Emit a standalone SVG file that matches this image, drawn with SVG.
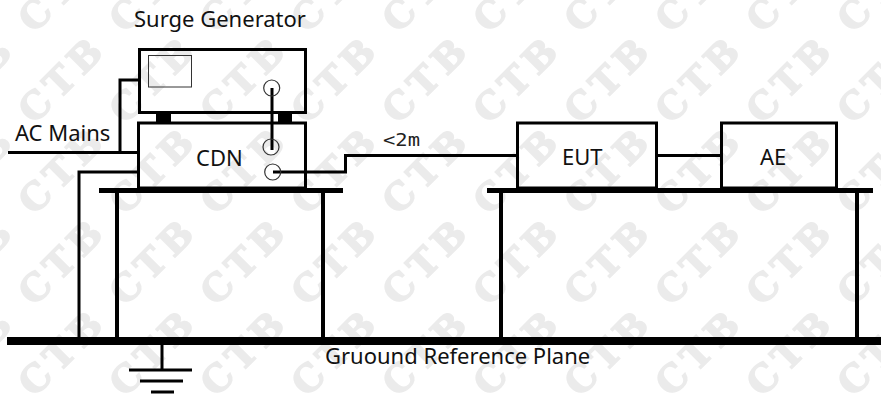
<svg xmlns="http://www.w3.org/2000/svg" width="881" height="394" viewBox="0 0 881 394">
<style>
.wm{font-family:"DejaVu Serif",serif;font-weight:bold;font-size:37px;letter-spacing:6px;fill:#ebebeb;stroke:#ebebeb;stroke-width:1.500;text-anchor:middle}
.box{fill:none;stroke:#000;stroke-width:3}
.w{fill:none;stroke:#000;stroke-width:3}
.port{fill:none;stroke:#333;stroke-width:1.2}
.t{font-family:"Noto Sans",sans-serif;font-size:22px;fill:#111}
</style>
<defs>
<pattern id="wm" x="17" y="217" width="91" height="91" patternUnits="userSpaceOnUse">
<text class="wm" transform="translate(44 45) rotate(-45)" x="2" y="13">CTB</text>
</pattern>
</defs>
<rect width="881" height="394" fill="#fff"/>
<rect id="watermark" width="881" height="394" fill="url(#wm)"/>
<g id="connectors">
<path class="w" d="M8 152.500H138M120 152.500V80H139M138 172H79V340"/>
<path class="w" d="M272 88V150"/>
<path class="w" d="M273 172H345.500V155.500H517M656 155.500H721"/>
<path d="M162 345V370" class="w"/>
</g>
<g id="surge-generator">
<rect class="box" x="139.500" y="49.500" width="166" height="63"/>
<rect x="148.500" y="55.500" width="43" height="31.500" fill="none" stroke="#333" stroke-width="1"/>
<circle class="port" cx="271.700" cy="88" r="8"/>
<rect x="156" y="113" width="15" height="9"/><rect x="278" y="113" width="14" height="9"/>
<text class="t" x="134" y="27">Surge Generator</text>
</g>
<g id="cdn">
<rect class="box" x="138.500" y="123" width="167" height="65"/>
<circle class="port" cx="271" cy="147" r="8"/>
<circle class="port" cx="272.700" cy="172" r="8"/>
<text class="t" x="196" y="166">CDN</text>
</g>
<g id="ac-mains"><text class="t" x="15" y="141">AC Mains</text></g>
<g id="length"><text x="383" y="146" font-family="DejaVu Sans Mono,monospace" font-size="17" fill="#222" textLength="37" lengthAdjust="spacingAndGlyphs">&lt;2m</text></g>
<g id="eut"><rect class="box" x="517.500" y="123" width="139" height="65"/><text class="t" x="562" y="165">EUT</text></g>
<g id="ae"><rect class="box" x="721.500" y="123" width="115" height="65"/><text class="t" x="760" y="165">AE</text></g>
<g id="table-left">
<path d="M99 190.500H343" stroke="#000" stroke-width="5"/>
<path d="M117 192V340M323 192V340" stroke="#000" stroke-width="4"/>
</g>
<g id="table-right">
<path d="M487 190.500H873" stroke="#000" stroke-width="5"/>
<path d="M501 192V340M857 192V340" stroke="#000" stroke-width="4"/>
</g>
<g id="ground-plane">
<path d="M7 341H881" stroke="#000" stroke-width="8"/>
<path d="M129 370H192M140 381H183M151 392H174" stroke="#000" stroke-width="3"/>
<text class="t" x="325" y="364">Gruound Reference Plane</text>
</g>
</svg>
